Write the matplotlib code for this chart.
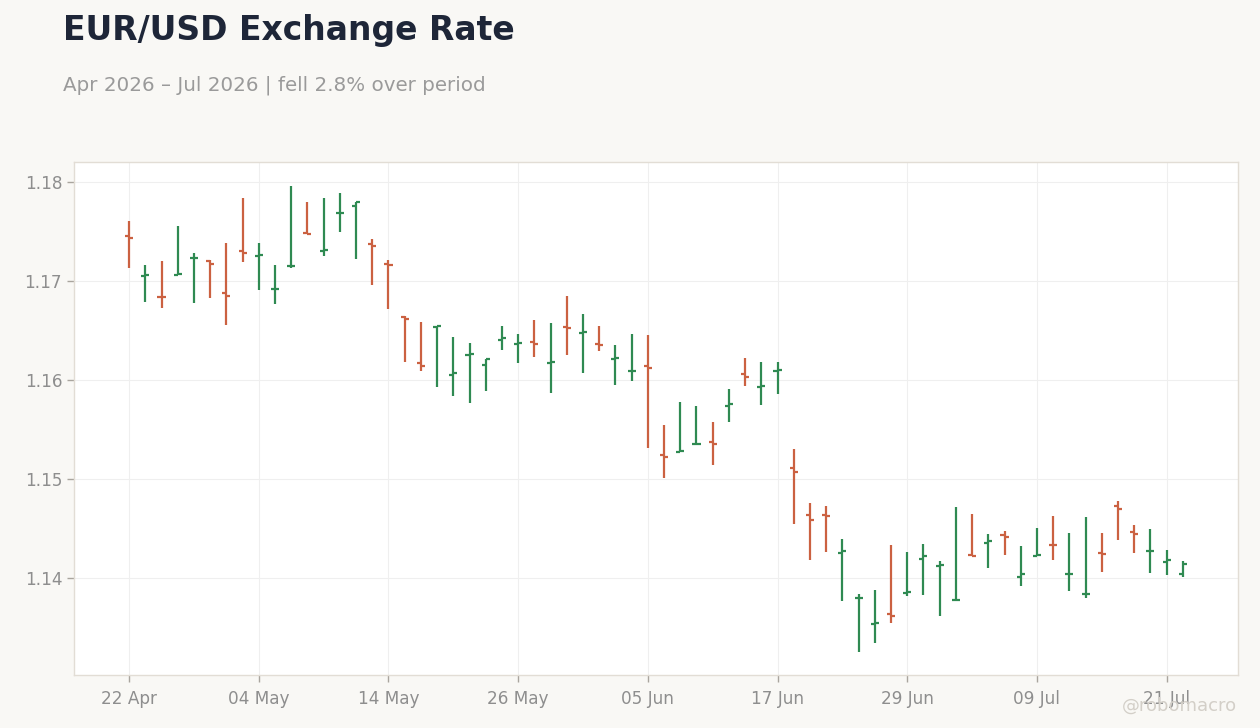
import numpy as np
import pandas as pd
import matplotlib
matplotlib.use('Agg')
import matplotlib.pyplot as plt

# ---------------------------------------------------------------------------
# Data — daily EUR/USD OHLC (business days from 22 Apr 2026)
# ---------------------------------------------------------------------------
start_date = '2026-04-22'

opens = [
    1.17458, 1.17054, 1.16841, 1.17062, 1.17232, 1.17199, 1.16882, 1.17306,
    1.17256, 1.16920, 1.17148, 1.17480, 1.17306, 1.17687, 1.17761, 1.17371,
    1.17175, 1.16633, 1.16175, 1.16538, 1.16054, 1.16256, 1.16155, 1.16404,
    1.16364, 1.16387, 1.16175, 1.16538, 1.16478, 1.16361, 1.16212, 1.16091,
    1.16141, 1.15245, 1.15273, 1.15354, 1.15377, 1.15740, 1.16061, 1.15932,
    1.16094, 1.15114, 1.14639, 1.14639, 1.14256, 1.13795, 1.13535, 1.13639,
    1.13848, 1.14195, 1.14121, 1.13778, 1.14235, 1.14357, 1.14431, 1.14013,
    1.14222, 1.14337, 1.14043, 1.13838, 1.14256, 1.14730, 1.14468, 1.14275,
    1.14165, 1.14043,
]
highs = [
    1.17606, 1.17162, 1.17202, 1.17556, 1.17283, 1.17212, 1.17384, 1.17838,
    1.17384, 1.17162, 1.17960, 1.17798, 1.17838, 1.17889, 1.17801, 1.17424,
    1.17212, 1.16646, 1.16586, 1.16548, 1.16434, 1.16374, 1.16215, 1.16545,
    1.16465, 1.16606, 1.16576, 1.16848, 1.16667, 1.16545, 1.16354, 1.16465,
    1.16455, 1.15545, 1.15778, 1.15737, 1.15576, 1.15909, 1.16222, 1.16182,
    1.16182, 1.15303, 1.14758, 1.14727, 1.14394, 1.13838, 1.13879, 1.14333,
    1.14263, 1.14343, 1.14172, 1.14717, 1.14646, 1.14444, 1.14475, 1.14323,
    1.14505, 1.14626, 1.14455, 1.14616, 1.14455, 1.14778, 1.14535, 1.14495,
    1.14283, 1.14172,
]
lows = [
    1.17134, 1.16791, 1.16730, 1.17058, 1.16781, 1.16831, 1.16559, 1.17195,
    1.16912, 1.16771, 1.17128, 1.17475, 1.17256, 1.17498, 1.17225, 1.16963,
    1.16720, 1.16185, 1.16094, 1.15932, 1.15841, 1.15771, 1.15892, 1.16303,
    1.16175, 1.16235, 1.15872, 1.16256, 1.16074, 1.16296, 1.15953, 1.15993,
    1.15316, 1.15013, 1.15270, 1.15340, 1.15144, 1.15579, 1.15942, 1.15750,
    1.15862, 1.14548, 1.14185, 1.14266, 1.13771, 1.13256, 1.13346, 1.13549,
    1.13821, 1.13831, 1.13619, 1.13764, 1.14222, 1.14104, 1.14235, 1.13922,
    1.14220, 1.14185, 1.13871, 1.13800, 1.14064, 1.14387, 1.14256, 1.14054,
    1.14033, 1.14013,
]
closes = [
    1.17437, 1.17064, 1.16838, 1.17066, 1.17235, 1.17175, 1.16848, 1.17286,
    1.17266, 1.16924, 1.17152, 1.17477, 1.17313, 1.17690, 1.17801, 1.17357,
    1.17165, 1.16619, 1.16144, 1.16548, 1.16074, 1.16258, 1.16215, 1.16424,
    1.16377, 1.16367, 1.16177, 1.16528, 1.16488, 1.16354, 1.16225, 1.16093,
    1.16124, 1.15225, 1.15286, 1.15356, 1.15357, 1.15760, 1.16033, 1.15942,
    1.16104, 1.15074, 1.14586, 1.14629, 1.14276, 1.13801, 1.13548, 1.13619,
    1.13862, 1.14225, 1.14134, 1.13781, 1.14222, 1.14377, 1.14417, 1.14043,
    1.14229, 1.14333, 1.14045, 1.13840, 1.14242, 1.14700, 1.14447, 1.14277,
    1.14185, 1.14144,
]

yticks = [1.14, 1.15, 1.16, 1.17, 1.18]

# ---------------------------------------------------------------------------
# Style
# ---------------------------------------------------------------------------
BG = '#f9f8f5'
UP = '#2f8a52'
DOWN = '#cb6141'
GRID = '#efefef'
TICK = '#8e8e8e'

o = np.array(opens)
h = np.array(highs)
l = np.array(lows)
c = np.array(closes)
n = len(o)
x = np.arange(n)
dates = pd.bdate_range(start_date, periods=n)
colors = np.where(c >= o, UP, DOWN)

fig = plt.figure(figsize=(12.6, 7.28), dpi=100, facecolor=BG)
ax = fig.add_axes([0.0587, 0.0728, 0.9238, 0.7047])
ax.set_facecolor('white')

# OHLC bars: high-low stem, open tick left, close tick right
w = 0.25
ax.vlines(x, l, h, colors=colors, lw=1.6, zorder=3)
ax.hlines(o, x - w, x, colors=colors, lw=1.6, zorder=3)
ax.hlines(c, x, x + w, colors=colors, lw=1.6, zorder=3)

ax.set_xlim(-3.4, 68.4)
ax.set_ylim(1.13020, 1.18202)

tick_idx = list(range(0, n, 8))
ax.set_xticks(tick_idx)
ax.set_xticklabels([dates[i].strftime('%d %b') for i in tick_idx])
ax.set_yticks(yticks)
ax.set_yticklabels([f'{v:.2f}' for v in yticks])

ax.grid(True, color=GRID, lw=0.8, zorder=0)
ax.set_axisbelow(True)
for s in ax.spines.values():
    s.set_color('#e2ddd5')
    s.set_linewidth(1.0)
ax.tick_params(axis='both', colors='#a9a59e', labelcolor=TICK,
               labelsize=12.2, length=5, width=1)
ax.tick_params(axis='x', pad=6)

fig.text(0.05, 0.958, 'EUR/USD Exchange Rate', fontsize=23.8,
         fontweight='bold', color='#1e2638', va='center', ha='left')
fig.text(0.05, 0.883, 'Apr 2026 \u2013 Jul 2026 | fell 2.8% over period',
         fontsize=14.3, color='#9a9a9a', va='center', ha='left')
fig.text(0.982, 0.031, '@robomacro', fontsize=13, color='#d3cfc8',
         va='center', ha='right')

fig.savefig('out.png', dpi=100, facecolor=BG)
